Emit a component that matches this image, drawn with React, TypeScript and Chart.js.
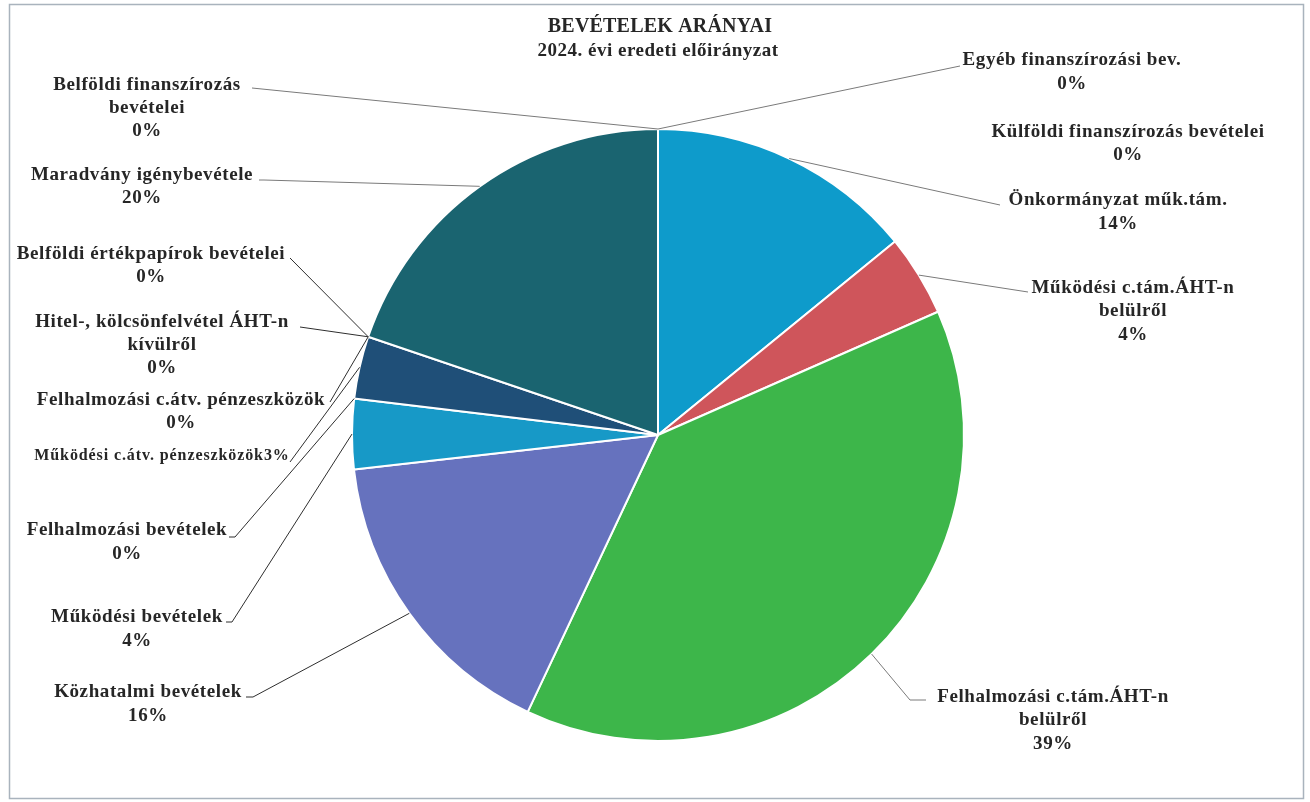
import React, { useEffect, useRef } from "react";
import { Chart, registerables } from "chart.js";

Chart.register(...registerables);

// ---- data ----
const categories: string[] = [
  "Önkormányzat műk.tám.",
  "Működési c.tám.ÁHT-n\nbelülről",
  "Felhalmozási c.tám.ÁHT-n\nbelülről",
  "Közhatalmi bevételek",
  "Működési bevételek",
  "Felhalmozási bevételek",
  "Működési c.átv. pénzeszközök",
  "Felhalmozási c.átv. pénzeszközök",
  "Hitel-, kölcsönfelvétel ÁHT-n\nkívülről",
  "Belföldi értékpapírok bevételei",
  "Maradvány igénybevétele",
  "Belföldi finanszírozás\nbevételei",
  "Külföldi finanszírozás bevételei",
  "Egyéb finanszírozási bev.",
];

const values: number[] = [14.1, 4.3, 38.6, 16.2, 3.7, 0, 3.3, 0, 0, 0, 19.8, 0, 0, 0];

const sliceColors: string[] = [
  "#0e9bcb",
  "#cf555b",
  "#3db64a",
  "#6672be",
  "#1799c7",
  "#8fa0b4",
  "#1f4f78",
  "#5a7a9a",
  "#3a6c8a",
  "#2a6a80",
  "#1a6470",
  "#4a8aa0",
  "#6aa0b0",
  "#7ab0c0",
];

const titleText = "BEVÉTELEK ARÁNYAI";
const subtitleText = "2024. évi eredeti előirányzat";

// ---- label layout (positions only) ----
type LabelLayout = {
  cx: number;
  y: number;
  lineH: number;
  size: number;
  inline?: boolean;
  dark?: boolean;
  lead?: number[][]; // label-side points of the leader line
};

const labelLayout: LabelLayout[] = [
  { cx: 1118, y: 200, lineH: 24, size: 19, lead: [[1000, 205]] },
  { cx: 1133, y: 288, lineH: 23.5, size: 19, lead: [[1028, 292]] },
  { cx: 1053, y: 697, lineH: 23.5, size: 19, lead: [[910, 700], [926, 700]] },
  { cx: 148, y: 692, lineH: 24, size: 19, dark: true, lead: [[253, 697], [246, 697]] },
  { cx: 137, y: 617, lineH: 24, size: 19, dark: true, lead: [[232, 622], [226, 622]] },
  { cx: 127, y: 530, lineH: 24, size: 19, dark: true, lead: [[235, 537], [229, 537]] },
  { cx: 162, y: 456, lineH: 22, size: 16, inline: true, dark: true, lead: [[290, 462]] },
  { cx: 181, y: 400, lineH: 23, size: 19, dark: true, lead: [[330, 402]] },
  { cx: 162, y: 322, lineH: 23, size: 19, dark: true, lead: [[300, 327]] },
  { cx: 151, y: 254, lineH: 23, size: 19, dark: true, lead: [[290, 258]] },
  { cx: 142, y: 175, lineH: 23, size: 19, lead: [[264, 180], [259, 180]] },
  { cx: 147, y: 85, lineH: 23, size: 19, lead: [[252, 88]] },
  { cx: 1128, y: 132, lineH: 23, size: 19 },
  { cx: 1072, y: 60, lineH: 24, size: 19, lead: [[960, 66]] },
];

const FONT = '"Liberation Serif", "DejaVu Serif", serif';
const TEXT_COLOR = "#262626";

const labelPlugin = {
  id: "excelLabels",
  afterDatasetsDraw(chart: any) {
    const ctx: any = chart.ctx;
    const meta = chart.getDatasetMeta(0);
    const total = values.reduce((a, b) => a + b, 0);
    ctx.save();
    // leader lines
    ctx.lineWidth = 1;
    meta.data.forEach((arc: any, i: number) => {
      const lay = labelLayout[i];
      if (!lay || !lay.lead) return;
      const p = arc.getProps(["x", "y", "startAngle", "endAngle", "outerRadius"], true);
      const mid = (p.startAngle + p.endAngle) / 2;
      const ax = p.x + Math.cos(mid) * p.outerRadius;
      const ay = p.y + Math.sin(mid) * p.outerRadius;
      ctx.strokeStyle = lay.dark ? "#2e2e2e" : "#7a7a7a";
      ctx.beginPath();
      ctx.moveTo(ax, ay);
      lay.lead.forEach((pt) => ctx.lineTo(pt[0], pt[1]));
      ctx.stroke();
    });
    // labels
    ctx.fillStyle = TEXT_COLOR;
    ctx.textAlign = "center";
    ctx.textBaseline = "middle";
    categories.forEach((cat, i) => {
      const lay = labelLayout[i];
      const pct = Math.round((values[i] / total) * 100) + "%";
      const lines = cat.split("\n");
      if (lay.inline) lines[lines.length - 1] += pct;
      else lines.push(pct);
      ctx.font = `bold ${lay.size}px ${FONT}`;
      ctx.letterSpacing = lay.inline ? "0.9px" : "0.6px";
      lines.forEach((ln, k) => ctx.fillText(ln, lay.cx, lay.y + k * lay.lineH));
    });
    // title
    ctx.letterSpacing = "0.2px";
    ctx.font = `bold 20px ${FONT}`;
    ctx.fillText(titleText, 660, 27);
    ctx.letterSpacing = "0.5px";
    ctx.font = `bold 19px ${FONT}`;
    ctx.fillText(subtitleText, 658, 51);
    ctx.letterSpacing = "0px";
    // frame
    ctx.strokeStyle = "#a9b3bd";
    ctx.lineWidth = 1.5;
    ctx.strokeRect(9.5, 4.5, 1294, 794);
    ctx.restore();
  },
};

export default function App() {
  const canvasRef = useRef<HTMLCanvasElement | null>(null);
  useEffect(() => {
    if (!canvasRef.current) return;
    const chart = new Chart(canvasRef.current, {
      type: "pie",
      data: {
        labels: categories,
        datasets: [
          {
            data: values,
            backgroundColor: sliceColors,
            borderColor: "#ffffff",
            borderWidth: 2,
            hoverOffset: 0,
          },
        ],
      },
      options: {
        animation: false,
        responsive: true,
        maintainAspectRatio: false,
        layout: { padding: { left: 6, right: 0, top: 128, bottom: 60 } },
        plugins: {
          legend: { display: false },
          title: { display: false },
          tooltip: { enabled: false },
        },
      },
      plugins: [labelPlugin],
    });
    return () => chart.destroy();
  }, []);
  return (
    <div style={{ position: "fixed", left: 0, top: 0, width: 1310, height: 802, background: "#ffffff" }}>
      <canvas ref={canvasRef} />
    </div>
  );
}
